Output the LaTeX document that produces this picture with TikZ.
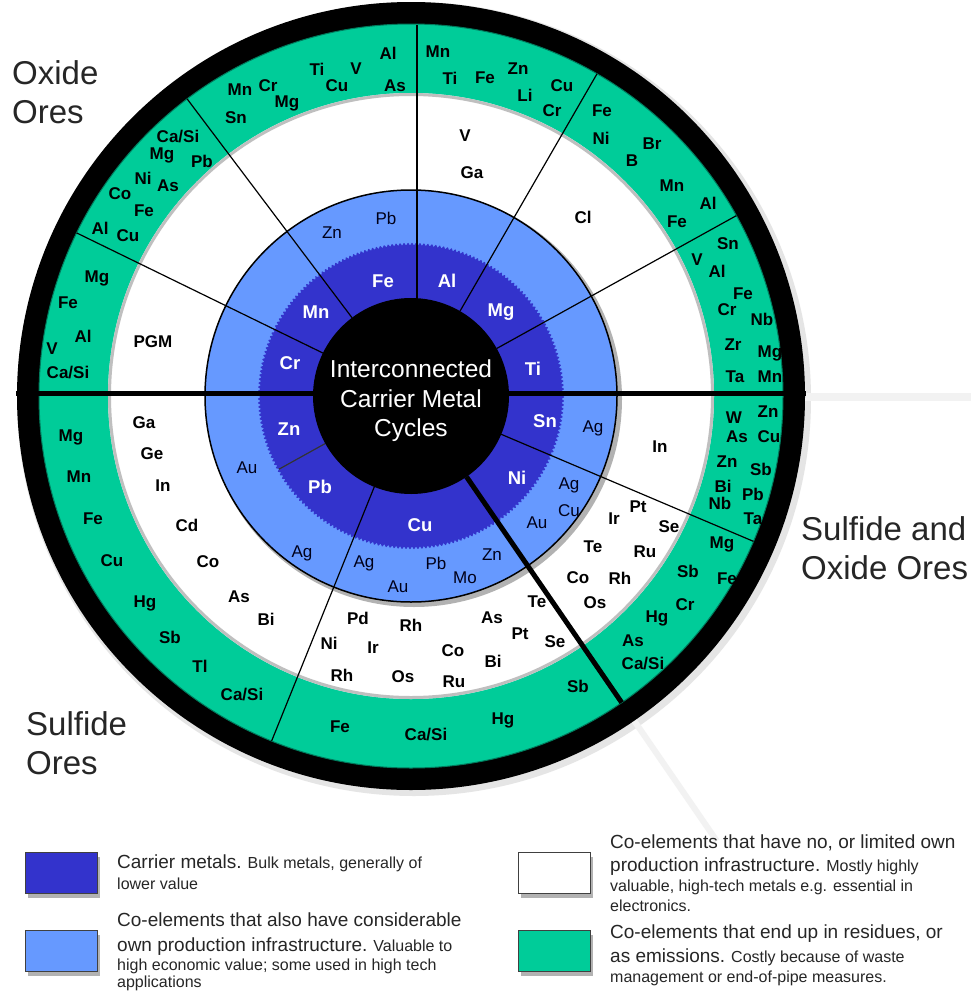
\documentclass[tikz,border=0pt]{standalone}
\usepackage{tikz}
\usepackage{fontspec}
\setmainfont{Liberation Sans}
\definecolor{carrier}{HTML}{3333CC}
\definecolor{coown}{HTML}{6699FF}
\definecolor{residue}{HTML}{00CC99}
\newcommand{\keybig}{\fontsize{19}{22}\selectfont}

\begin{document}
\begin{tikzpicture}[x=1pt, y=-1pt,
    carrier node/.style={font=\fontsize{18.5}{20}\selectfont\bfseries, text=white},
    own node/.style={font=\fontsize{17}{20}\selectfont, text=black!90!blue},
    rare node/.style={font=\fontsize{17}{20}\selectfont\bfseries},
    residue node/.style={font=\fontsize{17}{20}\selectfont\bfseries},
    ore node/.style={font=\fontsize{33}{39}\selectfont, text=black!85, align=left, anchor=west},
    divider/.style={line width=1.2pt},
    thick divider/.style={line width=5pt},
    key box/.style={draw=black!75, line width=0.8pt, minimum width=72pt, minimum height=41pt, inner sep=0pt},
    key text/.style={font=\fontsize{16}{19}\selectfont, text=black!85, anchor=base west, inner sep=0pt}]
        \tikzstyle{every node}=[inner sep=1pt]

        \fill[white] (0,0) rectangle (971,993);
        \useasboundingbox (0,0) rectangle (971,993);
        \coordinate (C) at (411,396);

        % shadows outside the wheel
        \fill[black!10] (414,399) circle[radius=397];
        \draw[black!5, line width=8pt] (800,397) -- (971,397);
        \draw[black!5, line width=6pt, shift={(C)}] (-304.5:390) -- (-304.5:540);

        % rings
        \fill[black] (C) circle[radius=394];
        \fill[residue] (C) circle[radius=372];
        \draw[residue!60!black, line width=1pt] (C) circle[radius=372];
        \fill[white] (C) circle[radius=303];
        \draw[black!25, line width=3pt] (C) circle[radius=301.5];
        \fill[black!30] (414,399) circle[radius=208];
        \fill[coown] (C) circle[radius=206];
        \draw[black, line width=1.5pt] (C) circle[radius=206];
        \fill[carrier, shift={(C)}] plot[domain=0:360, samples=1441]
            (\x:{152+1.2*sin(360*(2*\x/3-floor(2*\x/3)))}) -- cycle;

        % sector borders
        \begin{scope}[shift={(C)}]
          \foreach \a in {-60,-29,-127,-154,-248,-337}
            \draw[divider] (\a:98) -- (\a:372);
          \draw[divider, black!80] (-209:98) -- (-209:151);
          \draw[thick divider] (-304.5:98) -- (-304.5:372);
        \end{scope}
        \draw[divider] (417,25) -- (417,320);
        \draw[thick divider] (16,393) -- (806,393);

        \fill[black] (C) circle[radius=98];
        \node[font=\fontsize{24.5}{29.5}\selectfont, text=white, align=center] (title) at (411,401)
            {Interconnected\\Carrier Metal\\Cycles};

        % carrier metals
        \foreach \px/\py/\el [count=\i] in {383/281/Fe, 447/281/Al, 316/312/Mn, 501/312/Mg,
            290/363/Cr, 533/369/Ti, 289/429/Zn, 320/487/Pb, 420/525/Cu, 517/478/Ni, 545/421/Sn}
          \node[carrier node] (car\i) at (\px,\py) {\el};

        % co-elements with own infrastructure
        \foreach \px/\py/\el [count=\i] in {332/233/Zn, 386/218/Pb, 247/468/Au, 302/553/Ag,
            364/563/Ag, 398/587/Au, 436/563/Pb, 492/555/Zn, 465/578/Mo, 593/428/Ag,
            569/485/Ag, 569/511/Cu, 537/523/Au}
          \node[own node] (own\i) at (\px,\py) {\el};

        % co-elements without infrastructure
        \foreach \px/\py/\el [count=\i] in {153/342/PGM, 465/136/V, 472/173/Ga, 583/217/Cl,
            144/423/Ga, 152/454/Ge, 163/486/In, 187/525/Cd, 208/562/Co, 239/597/As, 266/619/Bi,
            358/618/Pd, 411/625/Rh, 329/643/Ni, 373/648/Ir, 342/675/Rh, 403/677/Os,
            453/651/Co, 454/682/Ru, 492/618/As, 493/661/Bi, 520/634/Pt, 537/602/Te, 555/642/Se,
            638/507/Pt, 614/519/Ir, 669/527/Se, 593/547/Te, 645/552/Ru, 578/578/Co,
            620/578/Rh, 595/603/Os, 660/447/In}
          \node[rare node] (rare\i) at (\px,\py) {\el};

        % co-elements ending in residues
        \foreach \px/\py/\el [count=\i] in {240/90/Mn, 268/86/Cr, 287/103/Mg, 317/69/Ti,
            337/86/Cu, 356/69/V, 388/53/Al, 395/86/As, 236/118/Sn,
            178/137/Ca\slash Si, 162/155/Mg, 202/161/Pb, 143/178/Ni, 168/186/As, 120/194/Co,
            144/211/Fe, 100/228/Al, 128/236/Cu,
            97/278/Mg, 68/303/Fe, 83/336/Al, 52/349/V, 68/373/Ca\slash Si,
            438/52/Mn, 450/78/Ti, 485/78/Fe, 518/69/Zn, 525/95/Li, 562/86/Cu, 552/111/Cr,
            602/111/Fe, 601/138/Ni, 652/144/Br, 632/161/B, 672/186/Mn, 708/203/Al, 677/222/Fe,
            728/244/Sn, 697/260/V, 717/271/Al, 743/294/Fe, 727/310/Cr, 762/319/Nb, 733/345/Zr,
            770/353/Mg, 735/377/Ta, 770/377/Mn,
            734/418/W, 768/412/Zn, 737/437/As, 769/437/Cu, 727/462/Zn, 761/469/Sb, 723/486/Bi,
            753/494/Pb, 720/503/Nb, 753/519/Ta,
            722/544/Mg, 727/579/Fe, 688/571/Sb, 685/605/Cr, 657/618/Hg, 633/641/As, 643/664/Ca\slash Si,
            578/686/Sb, 503/720/Hg, 426/735/Ca\slash Si, 340/727/Fe,
            71/437/Mg, 79/477/Mn, 93/519/Fe, 112/561/Cu, 145/603/Hg, 170/637/Sb, 200/666/Tl,
            242/695/Ca\slash Si}
          \node[residue node] (res\i) at (\px,\py) {\el};

        % ore types
        \node[ore node] (oxide) at (11,92) {Oxide\\Ores};
        \node[ore node] (sulfide) at (25,743) {Sulfide\\Ores};
        \node[ore node] (mixed) at (800,548) {Sulfide and\\Oxide Ores};

        % legend
        \foreach \kx/\ky/\kc [count=\i] in {25/852/carrier, 25/930/coown, 518/852/white, 518/930/residue} {
          \fill[black!30] (\kx+3,\ky+5) rectangle ++(72,41);
          \node[key box, fill=\kc, anchor=north west] (key\i) at (\kx,\ky) {};
        }

        \node[key text] (keyA1) at (117,868) {{\keybig Carrier metals.} Bulk metals, generally of};
        \node[key text] (keyA2) at (117,889) {lower value};
        \node[key text] (keyB1) at (117,926) {{\keybig Co-elements that also have considerable}};
        \node[key text] (keyB2) at (117,951) {{\keybig own production infrastructure.} Valuable to};
        \node[key text] (keyB3) at (117,970) {high economic value; some used in high tech};
        \node[key text] (keyB4) at (117,987) {applications};

        \node[key text] (keyC1) at (610,848) {{\keybig Co-elements that have no, or limited own}};
        \node[key text] (keyC2) at (610,871) {{\keybig production infrastructure.} Mostly highly};
        \node[key text] (keyC3) at (610,891) {valuable, high-tech metals e.g. essential in};
        \node[key text] (keyC4) at (610,911) {electronics.};
        \node[key text] (keyD1) at (610,938) {{\keybig Co-elements that end up in residues, or}};
        \node[key text] (keyD2) at (610,962) {{\keybig as emissions.} Costly because of waste};
        \node[key text] (keyD3) at (610,982) {management or end-of-pipe measures.};

\end{tikzpicture}
\end{document}
